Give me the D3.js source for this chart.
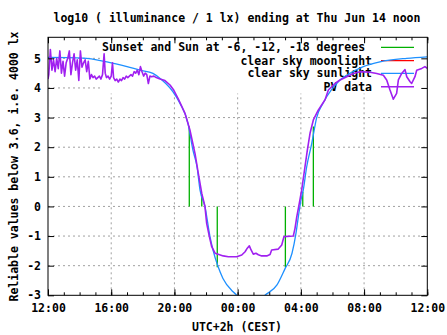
<!DOCTYPE html>
<html><head><meta charset="utf-8">
<script src="https://cdn.jsdelivr.net/npm/d3@7/dist/d3.min.js"></script>
<style>
body{margin:0;background:#fff}
text{font-family:"DejaVu Sans Mono",monospace;font-weight:bold;font-size:11.5px;fill:#000}
</style></head><body>
<svg id="c" width="447" height="335"></svg>
<script>
// hours after Thu 12:00 (UTC+2)
const xTickHours = [0,4,8,12,16,20,24];
const xTickLabels = ["12:00","16:00","20:00","00:00","04:00","08:00","12:00"];
const yTicks = [-3,-2,-1,0,1,2,3,4,5];
const titleText = "log10 ( illuminance / 1 lx) ending at Thu Jun 14 noon";
const yLabel = "Reliable values below 3.6, i.e. 4000 lx";
const xLabel = "UTC+2h (CEST)";
const legendNames = ["Sunset and Sun at -6, -12, -18 degrees\u00a0","clear sky moonlight","clear sky sunlight","PV data"];

// Sunset / sun at -6, -12 degrees (evening), then -12, -6, sunrise (morning)
const sunHours = [8.94, 9.73, 10.71, 15.02, 16.12, 16.79];
const sunValues = [2.7, 0.4, -2.05, -2.05, 0.5, 2.7];

// clear sky moonlight (below the plotted range)
const moonData = [];

// clear sky sunlight model [hour, log10 lx]
const sunlightData = [
[0,5.03],[2.21,5.01],[3.73,4.88],[5.0,4.72],[5.82,4.60],[6.64,4.49],[7.21,4.27],
[7.91,3.87],[8.35,3.48],[8.86,2.80],[9.17,1.90],[9.43,1.34],[9.62,0.55],[9.93,0.0],
[10.25,-1.02],[10.44,-1.47],[10.76,-2.03],[11.07,-2.43],[11.71,-2.88],[11.96,-3.0],
[12.6,-3.25],[13.2,-3.25],[13.73,-3.0],[14.49,-2.65],[15.0,-2.1],[15.44,-1.58],
[15.69,-0.91],[15.84,-0.35],[16.01,0.22],[16.15,0.55],[16.37,1.34],[16.69,2.13],
[17.0,3.0],[17.42,3.50],[17.95,3.95],[18.48,4.27],[18.9,4.43],[19.95,4.72],
[21.0,4.88],[22.7,5.0],[24,5.05]];

// PV sensor data [hour, log10 lx]
const pvData = [
[0.00,4.30],[0.05,4.45],[0.15,5.30],[0.25,4.60],[0.35,4.95],[0.45,4.55],[0.55,5.00],
[0.65,4.65],[0.75,5.25],[0.85,4.50],[0.95,4.90],[1.05,4.40],[1.15,4.85],[1.25,5.00],
[1.35,5.25],[1.45,4.45],[1.55,4.85],[1.65,5.15],[1.75,4.60],[1.85,4.95],[1.95,4.25],
[2.05,5.25],[2.15,4.70],[2.25,4.85],[2.35,4.95],[2.45,4.55],[2.55,4.90],[2.65,4.30],
[2.75,4.45],[2.85,4.35],[2.95,4.40],[3.05,4.30],[3.15,4.35],[3.25,4.40],[3.35,4.30],
[3.45,4.45],[3.55,5.15],[3.62,4.50],[3.70,4.35],[3.80,4.40],[3.90,4.30],[4.00,4.40],
[4.08,4.85],[4.15,4.35],[4.25,4.25],[4.35,4.30],[4.45,4.20],[4.55,4.30],[4.65,4.25],
[4.75,4.35],[4.85,4.30],[4.95,4.40],[5.05,4.35],[5.15,4.40],[5.25,4.45],[5.35,4.40],
[5.45,4.55],[5.55,4.50],[5.65,4.60],[5.75,4.45],[5.85,4.72],[5.95,4.55],[6.05,4.40],
[6.15,4.50],[6.25,4.45],[6.35,4.15],[6.45,4.40],[6.55,4.38],[6.70,4.40],[6.85,4.35],
[7.09,4.30],[7.40,4.25],[7.72,4.10],[7.93,3.95],[8.25,3.62],[8.67,3.14],[8.98,2.58],
[9.30,1.79],[9.51,1.12],[9.73,0.44],[9.93,0.0],[10.04,-0.57],[10.21,-1.02],[10.36,-1.36],
[10.57,-1.58],[11.09,-1.67],[11.41,-1.70],[11.94,-1.70],[12.26,-1.64],[12.47,-1.53],
[12.61,-1.41],[12.74,-1.33],[12.85,-1.47],[12.99,-1.61],[13.16,-1.58],[13.31,-1.63],
[13.52,-1.67],[13.84,-1.67],[14.05,-1.62],[14.15,-1.47],[14.57,-1.44],[14.79,-1.30],
[14.93,-1.02],[15.52,-1.00],[15.63,-0.74],[15.74,-0.35],[15.90,0.10],[16.05,0.55],
[16.26,1.34],[16.41,1.90],[16.58,2.47],[16.79,2.92],[17.10,3.25],[17.53,3.60],
[17.74,3.93],[18.16,4.15],[18.48,4.27],[18.90,4.38],[19.32,4.49],[19.74,4.55],
[20.37,4.53],[20.80,4.49],[21.22,4.43],[21.43,4.27],[21.64,3.93],[21.85,3.62],
[22.06,3.82],[22.17,4.27],[22.38,4.49],[22.59,4.62],[22.70,4.38],[22.91,4.21],
[23.01,4.15],[23.22,4.38],[23.33,4.60],[23.65,4.66],[23.85,4.72],[24.0,4.66]];

const colors = {sun:"#00b000", moon:"#ff0000", sunlight:"#1e90ff", pv:"#a020f0"};
const M = {l:48, r:427.3, t:37.3, b:295.3};
const svg = d3.select("#c");
const x = d3.scaleLinear().domain([0,24]).range([M.l,M.r]);
const y = d3.scaleLinear().domain([-3,5.71]).range([M.b,M.t]);

// grid
const g = svg.append("g");
g.selectAll(".gx").data(xTickHours.slice(1,-1)).join("line")
  .attr("x1",d=>x(d)).attr("x2",d=>x(d)).attr("y1",M.t).attr("y2",M.b)
  .attr("stroke","#a0a0a0").attr("stroke-dasharray","2,3");
g.selectAll(".gy").data(yTicks.slice(1)).join("line")
  .attr("y1",d=>y(d)).attr("y2",d=>y(d)).attr("x1",M.l).attr("x2",M.r)
  .attr("stroke","#a0a0a0").attr("stroke-dasharray","2,3");

// key background
svg.append("rect").attr("x",100).attr("y",M.t+0.5).attr("width",M.r-100-0.5).attr("height",93-M.t)
  .attr("fill","#fff");

// key
const keyRows = [47.3,60.7,73.3,86.7];
const keyCols = [colors.sun,colors.moon,colors.sunlight,colors.pv];
legendNames.forEach((n,i)=>{
  svg.append("text").attr("x",372).attr("y",keyRows[i]+4).attr("text-anchor","end")
    .style("white-space","pre").text(n);
  svg.append("line").attr("x1",381).attr("x2",414).attr("y1",keyRows[i]).attr("y2",keyRows[i])
    .attr("stroke",keyCols[i]).attr("stroke-width",i===3?1.6:1.3);
});

// clip
svg.append("clipPath").attr("id","clip").append("rect")
  .attr("x",M.l).attr("y",M.t).attr("width",M.r-M.l).attr("height",M.b-M.t);
const data = svg.append("g").attr("clip-path","url(#clip)");

// sun lines
data.selectAll(".sun").data(sunHours).join("line")
  .attr("x1",d=>x(d)).attr("x2",d=>x(d)).attr("y1",y(0)).attr("y2",(d,i)=>y(sunValues[i]))
  .attr("stroke",colors.sun).attr("stroke-width",1.3);

const line = d3.line().x(d=>x(d[0])).y(d=>y(d[1]));
if (moonData.length) data.append("path").attr("d",line(moonData)).attr("fill","none").attr("stroke",colors.moon);
data.append("path").attr("d",line.curve(d3.curveMonotoneX)(sunlightData)).attr("fill","none")
  .attr("stroke",colors.sunlight).attr("stroke-width",1.3);
data.append("path").attr("d",d3.line().x(d=>x(d[0])).y(d=>y(d[1]))(pvData)).attr("fill","none")
  .attr("stroke",colors.pv).attr("stroke-width",1.6).attr("stroke-linejoin","round");

// axes
function styleAxis(sel){ sel.select(".domain").remove(); sel.selectAll("line").attr("stroke","#000"); sel.selectAll("text").attr("font-size",null).attr("font-family",null); }
const minor = d3.range(0,25);
svg.append("g").attr("transform",`translate(0,${M.b})`)
  .call(d3.axisBottom(x).tickValues(minor).tickSize(-3).tickFormat(""))
  .call(styleAxis);
svg.append("g").attr("transform",`translate(0,${M.t})`)
  .call(d3.axisTop(x).tickValues(minor).tickSize(-3).tickFormat(""))
  .call(styleAxis);
svg.append("g").attr("transform",`translate(0,${M.b})`)
  .call(d3.axisBottom(x).tickValues(xTickHours).tickSize(-6).tickPadding(9)
    .tickFormat((d,i)=>xTickLabels[i])).call(styleAxis);
svg.append("g").attr("transform",`translate(0,${M.t})`)
  .call(d3.axisTop(x).tickValues(xTickHours).tickSize(-6).tickFormat("")).call(styleAxis);
svg.append("g").attr("transform",`translate(${M.l},0)`)
  .call(d3.axisLeft(y).tickValues(yTicks).tickSize(-6).tickPadding(7).tickFormat(d3.format("d")))
  .call(styleAxis);
svg.append("g").attr("transform",`translate(${M.r},0)`)
  .call(d3.axisRight(y).tickValues(yTicks).tickSize(-6).tickFormat("")).call(styleAxis);
svg.selectAll(".tick text").each(function(){ const t=d3.select(this); t.text(t.text().replace("-","\u2212").replace("\u2212","-")); });

// frame
svg.append("rect").attr("x",M.l).attr("y",M.t).attr("width",M.r-M.l).attr("height",M.b-M.t)
  .attr("fill","none").attr("stroke","#000");

// titles
svg.append("text").attr("x",237).attr("y",22).attr("text-anchor","middle").text(titleText);
svg.append("text").attr("x",237).attr("y",331).attr("text-anchor","middle").text(xLabel);
svg.append("text").attr("transform","translate(18,166.5) rotate(-90)").attr("text-anchor","middle").text(yLabel);
</script></body></html>
